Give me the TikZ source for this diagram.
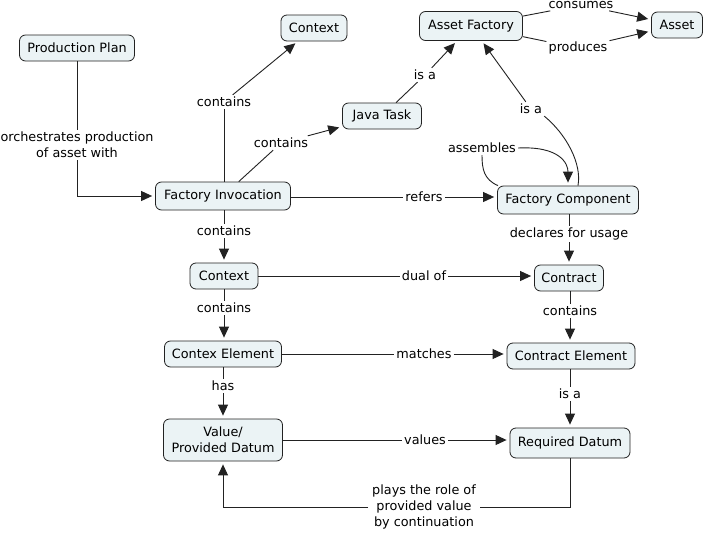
\documentclass[tikz,border=0pt]{standalone}
\usepackage{fontspec}
\setmainfont{DejaVu Sans}
\usetikzlibrary{arrows.meta,calc}
\definecolor{cfill}{HTML}{EBF3F5}
\definecolor{cline}{HTML}{222222}
\begin{document}
\begin{tikzpicture}[x=1pt,y=-1pt,
  every node/.style={font=\fontsize{12.8}{15.8}\selectfont, text=black},
  concept/.style={draw=cline, fill=cfill, rounded corners=6pt, line width=0.8pt, inner sep=1pt, minimum height=26pt},
  lbl/.style={inner sep=2pt, align=center},
  conn/.style={draw=cline, line width=0.9pt},
  arr/.style={conn, -{Triangle[length=11pt,width=10pt]}, shorten >=3pt}
]
\useasboundingbox (0,0) rectangle (705,533);
\fill[white] (0,0) rectangle (705,533);
% concepts
\node[concept, minimum width=115pt] (pp) at (77,48) {Production Plan};
\node[concept, minimum width=66pt] (ctx1) at (314,28) {Context};
\node[concept, minimum width=103pt, minimum height=29pt] (af) at (471,26) {Asset Factory};
\node[concept, minimum width=51pt] (asset) at (677,25) {Asset};
\node[concept, minimum width=79pt] (jt) at (382,116) {Java Task};
\node[concept, minimum width=135pt, minimum height=28pt] (fi) at (223,196) {Factory Invocation};
\node[concept, minimum width=141pt, minimum height=28pt] (fc) at (568,200) {Factory Component};
\node[concept, minimum width=68pt] (ctx2) at (224,276) {Context};
\node[concept, minimum width=69pt] (con) at (569,278) {Contract};
\node[concept, minimum width=117pt] (ce) at (223,354) {Contex Element};
\node[concept, minimum width=128pt] (cte) at (571,356) {Contract Element};
\node[concept, minimum width=119pt, minimum height=42pt, align=center] (val) at (223,440) {Value/\\Provided Datum};
\node[concept, minimum width=120pt, minimum height=30pt] (rd) at (570,443) {Required Datum};
% labels
\node[lbl] (l1) at (77,145) {orchestrates production\\of asset with};
\node[lbl] (l2) at (224,102) {contains};
\node[lbl] (l3) at (281,143) {contains};
\node[lbl] (l4) at (425,75) {is a};
\node[lbl] (l5) at (581,5) {consumes};
\node[lbl] (l6) at (578,48) {produces};
\node[lbl] (l7) at (531,109) {is a};
\node[lbl] (l8) at (482,148) {assembles};
\node[lbl] (l9) at (424,197) {refers};
\node[lbl] (l10) at (224,231) {contains};
\node[lbl] (l11) at (569,234) {declares for usage};
\node[lbl] (l12) at (424,276) {dual of};
\node[lbl] (l13) at (224,308) {contains};
\node[lbl] (l14) at (570,311) {contains};
\node[lbl] (l15) at (424,354) {matches};
\node[lbl] (l16) at (223,386) {has};
\node[lbl] (l17) at (570,394) {is a};
\node[lbl] (l18) at (425,440) {values};
\node[lbl, inner sep=4pt] (l19) at (424,507) {plays the role of\\provided value\\by continuation};
% connectors
\draw[conn] (pp) -- (l1);
\draw[arr] (l1.south) |- (fi.west);
\draw[conn] (fi.north -| l2) -- (l2);
\draw[arr] (l2) -- (ctx1);
\draw[conn] (fi) -- (l3);
\draw[arr] (l3) -- (jt);
\draw[conn] (jt) -- (l4);
\draw[arr] (l4) -- (af);
\draw[conn] (af) -- (l5);
\draw[arr] (l5) -- (asset);
\draw[conn] (af) -- (l6);
\draw[arr] (l6) -- (asset);
\draw[conn] ([xshift=10pt]fc.north) .. controls +(4,-22) and +(22,18) .. (l7.south east);
\draw[arr] (l7) -- (af);
\draw[conn] ([xshift=-70pt]fc.north) .. controls +(-14,-6) and +(0,14) .. (l8.south);
\draw[arr] (l8.east) .. controls +(42,-2) and +(0,-22) .. (fc.north);
\draw[conn] (fi.east |- l9) -- (l9);
\draw[arr] (l9.east) -- (fc.west |- l9);
\draw[conn] (fi.south -| l10) -- (l10);
\draw[arr] (l10) -- (ctx2.north -| l10);
\draw[conn] (fc.south -| l11) -- (l11);
\draw[arr] (l11) -- (con.north -| l11);
\draw[conn] (ctx2.east |- l12) -- (l12);
\draw[arr] (l12.east) -- (con.west |- l12);
\draw[conn] (ctx2.south -| l13) -- (l13);
\draw[arr] (l13) -- (ce.north -| l13);
\draw[conn] (con.south -| l14) -- (l14);
\draw[arr] (l14) -- (cte.north -| l14);
\draw[conn] (ce.east |- l15) -- (l15);
\draw[arr] (l15.east) -- (cte.west |- l15);
\draw[conn] (ce.south -| l16) -- (l16);
\draw[arr] (l16) -- (val.north -| l16);
\draw[conn] (cte.south -| l17) -- (l17);
\draw[arr] (l17) -- (rd.north -| l17);
\draw[conn] (val.east |- l18) -- (l18);
\draw[arr] (l18.east) -- (rd.west |- l18);
\draw[conn] (rd.south) |- (l19.east);
\draw[arr] (l19.west) -| (val.south);
\end{tikzpicture}
\end{document}
